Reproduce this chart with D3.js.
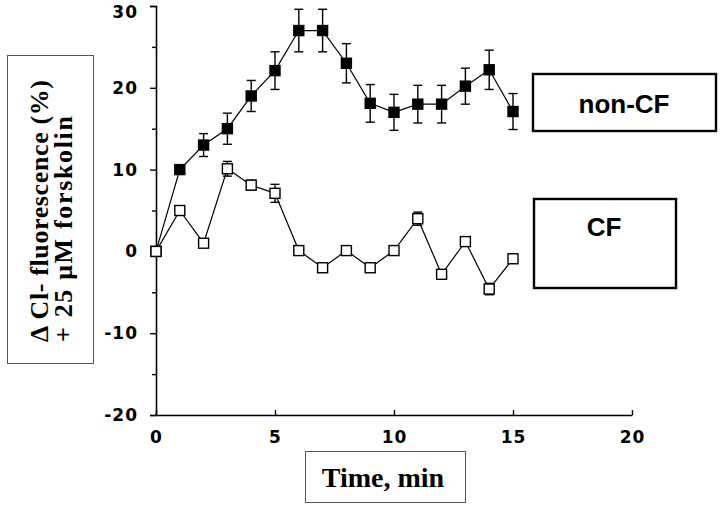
<!DOCTYPE html>
<html>
<head>
<meta charset="utf-8">
<script src="https://cdn.jsdelivr.net/npm/d3@7"></script>
<style>
  body { margin: 0; background: #fff; }
  svg { display: block; }
</style>
</head>
<body>
<div id="chart"></div>
<script>
// time points (min)
const times = [0, 1, 2, 3, 4, 5, 6, 7, 8, 9, 10, 11, 12, 13, 14, 15];
// non-CF (filled squares)
const nonCF = [0, 10, 13, 15, 19, 22.1, 27, 27, 23, 18.1, 17, 18, 18, 20.2, 22.2, 17.1];
const nonCFErr = [0, 0.5, 1.4, 1.9, 1.9, 2.3, 2.6, 2.6, 2.4, 2.3, 2.2, 2.3, 2.3, 2.2, 2.4, 2.2];
// CF (open squares)
const cf = [0, 5, 1, 10.1, 8.1, 7.1, 0.1, -2, 0.1, -2, 0.1, 4, -2.8, 1.2, -4.6, -0.9];
const cfErr = [0, 0.3, 0.3, 0.9, 0.6, 1.1, 0.5, 0.5, 0.4, 0.5, 0.4, 0.8, 0.4, 0.5, 0.7, 0.5];

const yMajor = [-20, -10, 0, 10, 20, 30];
const yMinor = [-15, -5, 5, 15, 25];
const xTicks = [0, 5, 10, 15, 20];

const width = 720, height = 508;
const svg = d3.select('#chart').append('svg')
  .attr('width', width).attr('height', height);

const x = d3.scaleLinear().domain([0, 20]).range([156, 632]);
const y = d3.scaleLinear().domain([-20, 30]).range([415, 6]);

const tickFont = 'DejaVu Sans, Verdana, sans-serif';
const styleTicks = g => g.selectAll('text')
  .attr('font-family', tickFont).attr('font-weight', 'bold')
  .attr('font-size', 17).attr('letter-spacing', 1).attr('fill', '#000');

// y axis
svg.append('g')
  .attr('transform', `translate(${x(0)},0)`)
  .call(d3.axisLeft(y).tickValues(yMajor).tickSize(6).tickPadding(12)
    .tickFormat(d => String(d)))
  .call(styleTicks)
  .call(g => g.select('.tick:last-of-type text').attr('dy', '0.65em'));
svg.append('g')
  .attr('transform', `translate(${x(0)},0)`)
  .call(d3.axisLeft(y).tickValues(yMinor).tickSize(4).tickFormat(''))
  .call(g => g.select('.domain').remove());

// x axis
svg.append('g')
  .attr('transform', `translate(0,${y(-20)})`)
  .call(d3.axisBottom(x).tickValues(xTicks).tickSize(-5).tickPadding(16)
    .tickSizeOuter(0))
  .call(styleTicks);

svg.selectAll('.domain').attr('stroke-width', 1.6);
svg.selectAll('.tick line').attr('stroke-width', 1.4);

// series
const series = [
  {vals: nonCF, err: nonCFErr, fill: '#000'},
  {vals: cf, err: cfErr, fill: '#fff'}
];
const line = d3.line().x(d => x(d.t)).y(d => y(d.v));

series.forEach(s => {
  const pts = times.map((t, i) => ({t, v: s.vals[i], e: s.err[i]}));
  const g = svg.append('g');
  g.append('path').datum(pts)
    .attr('d', line).attr('fill', 'none')
    .attr('stroke', '#000').attr('stroke-width', 1.2);
  const eb = g.selectAll('g.err').data(pts.filter(d => d.e > 0)).join('g');
  eb.append('line')
    .attr('x1', d => x(d.t)).attr('x2', d => x(d.t))
    .attr('y1', d => y(d.v + d.e)).attr('y2', d => y(d.v - d.e))
    .attr('stroke', '#000').attr('stroke-width', 1.4);
  [1, -1].forEach(sg => {
    eb.append('line')
      .attr('x1', d => x(d.t) - 4.5).attr('x2', d => x(d.t) + 4.5)
      .attr('y1', d => y(d.v + sg * d.e)).attr('y2', d => y(d.v + sg * d.e))
      .attr('stroke', '#000').attr('stroke-width', 1.4);
  });
  g.selectAll('rect').data(pts).join('rect')
    .attr('x', d => x(d.t) - 5).attr('y', d => y(d.v) - 5)
    .attr('width', 10).attr('height', 10)
    .attr('fill', s.fill).attr('stroke', '#000').attr('stroke-width', 1.4);
});

// y label box
svg.append('rect').attr('x', 7.5).attr('y', 55.5).attr('width', 86).attr('height', 308)
  .attr('fill', 'none').attr('stroke', '#555').attr('stroke-width', 1);
const yl = svg.append('text')
  .attr('transform', 'translate(0,342) rotate(-90)')
  .attr('text-anchor', 'start')
  .attr('font-family', 'Liberation Serif, Times New Roman, serif')
  .attr('font-weight', 'bold').attr('font-size', 26).attr('fill', '#000');
yl.append('tspan').attr('x', 0).attr('y', 48)
  .attr('textLength', 262).attr('lengthAdjust', 'spacing')
  .text('\u0394 Cl- fluorescence  (%)');
yl.append('tspan').attr('x', 0).attr('y', 72)
  .attr('textLength', 226).attr('lengthAdjust', 'spacing')
  .text('+ 25 \u03bcM forskolin');

// x label box
svg.append('rect').attr('x', 305.5).attr('y', 451.5).attr('width', 160).attr('height', 51)
  .attr('fill', 'none').attr('stroke', '#555').attr('stroke-width', 1);
svg.append('text').attr('x', 383).attr('y', 487)
  .attr('text-anchor', 'middle')
  .attr('font-family', 'Liberation Serif, Times New Roman, serif')
  .attr('font-weight', 'bold').attr('font-size', 28).attr('fill', '#000')
  .text('Time, min');

// legend boxes
const legend = [
  {label: 'non-CF', x0: 533, y0: 74, w: 183, h: 57, tx: 624, ty: 113},
  {label: 'CF', x0: 534, y0: 199, w: 142, h: 89, tx: 604, ty: 236}
];
legend.forEach(l => {
  svg.append('rect').attr('x', l.x0).attr('y', l.y0).attr('width', l.w).attr('height', l.h)
    .attr('fill', 'none').attr('stroke', '#000').attr('stroke-width', 2.4);
  svg.append('text').attr('x', l.tx).attr('y', l.ty)
    .attr('text-anchor', 'middle')
    .attr('font-family', 'Liberation Sans, Arial, sans-serif')
    .attr('font-weight', 'bold').attr('font-size', 26).attr('fill', '#000')
    .text(l.label);
});
</script>
</body>
</html>
